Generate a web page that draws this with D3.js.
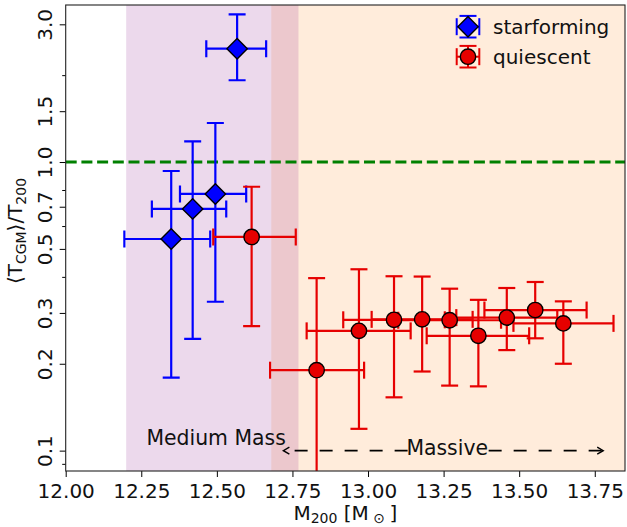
<!DOCTYPE html>
<html>
<head>
<meta charset="utf-8">
<script src="https://cdn.jsdelivr.net/npm/d3@7"></script>
<style>
  body { margin: 0; background: #fff; }
  svg { display: block; font-family: "DejaVu Sans", sans-serif; }
</style>
</head>
<body>
<svg id="chart" width="627" height="527"></svg>
<script>
// Star-forming haloes: halo mass (log M200) with bin edges, and temperature ratio with error range
const sfMass   = [12.349, 12.420, 12.495, 12.567];
const sfMassLo = [12.194, 12.285, 12.378, 12.465];
const sfMassHi = [12.478, 12.531, 12.597, 12.663];
const sfT      = [0.541, 0.688, 0.775, 2.47];
const sfTLo    = [0.179, 0.244, 0.328, 1.92];
const sfTHi    = [0.931, 1.18, 1.365, 3.25];

// Quiescent haloes
const qMass   = [12.615, 12.830, 12.970, 13.086, 13.179, 13.270, 13.365, 13.459, 13.553, 13.646];
const qMassLo = [12.488, 12.676, 12.797, 12.918, 13.012, 13.100, 13.194, 13.292, 13.385, 13.481];
const qMassHi = [12.761, 12.987, 13.141, 13.254, 13.346, 13.440, 13.533, 13.626, 13.723, 13.812];
const qT      = [0.550, 0.190, 0.260, 0.284, 0.285, 0.283, 0.250, 0.289, 0.307, 0.276];
const qTLo    = [0.270, 0.060, 0.119, 0.153, 0.188, 0.168, 0.167, 0.223, 0.245, 0.200];
const qTHi    = [0.821, 0.396, 0.425, 0.402, 0.401, 0.364, 0.333, 0.366, 0.384, 0.329];

// Axis ticks
const xTicks      = [12.00, 12.25, 12.50, 12.75, 13.00, 13.25, 13.50, 13.75];
const yTicks      = [0.1, 0.2, 0.3, 0.5, 0.7, 1.0, 1.5, 3.0];
const yMinorTicks = [0.09, 0.4, 0.6, 0.8, 2.0];

// Mass regimes and reference level
const mediumMassRange = [12.2, 12.77];
const massiveRange    = [12.68, 13.85];
const referenceRatio  = 1.0;

const svg = d3.select("#chart");
const L = 65.7, R = 625, T = 5, B = 471;
const x = d3.scaleLinear().domain([12.0, 13.85]).range([L, R]);
const y = d3.scaleLog().domain([0.085, 3.5]).range([B, T]);

svg.append("rect").attr("width", 627).attr("height", 527).attr("fill", "#fff");

svg.append("defs").append("clipPath").attr("id", "plotclip")
  .append("rect").attr("x", L).attr("y", T).attr("width", R - L).attr("height", B - T);

const plot = svg.append("g").attr("clip-path", "url(#plotclip)");

// shaded mass regimes
plot.append("rect")
  .attr("x", x(massiveRange[0])).attr("width", x(massiveRange[1]) - x(massiveRange[0]))
  .attr("y", T).attr("height", B - T)
  .attr("fill", "#ff7f0e").attr("fill-opacity", 0.15);
plot.append("rect")
  .attr("x", x(mediumMassRange[0])).attr("width", x(mediumMassRange[1]) - x(mediumMassRange[0]))
  .attr("y", T).attr("height", B - T)
  .attr("fill", "#800080").attr("fill-opacity", 0.15);

// T_CGM = T_200 reference line
plot.append("line")
  .attr("x1", L).attr("x2", R)
  .attr("y1", y(referenceRatio)).attr("y2", y(referenceRatio))
  .attr("stroke", "#008000").attr("stroke-width", 3)
  .attr("stroke-dasharray", "11,4.7");

const CAP = 8.5;
function errorBars(g, mass, mLo, mHi, t, tLo, tHi, color) {
  mass.forEach((m, i) => {
    const eg = g.append("g").attr("stroke", color).attr("stroke-width", 2.2).attr("fill", "none");
    const cx = x(m), cy = y(t[i]);
    eg.append("line").attr("x1", x(mLo[i])).attr("x2", x(mHi[i])).attr("y1", cy).attr("y2", cy);
    eg.append("line").attr("x1", cx).attr("x2", cx).attr("y1", y(tLo[i])).attr("y2", y(tHi[i]));
    [mLo[i], mHi[i]].forEach(v => eg.append("line")
      .attr("x1", x(v)).attr("x2", x(v)).attr("y1", cy - CAP).attr("y2", cy + CAP));
    [tLo[i], tHi[i]].forEach(v => eg.append("line")
      .attr("x1", cx - CAP).attr("x2", cx + CAP).attr("y1", y(v)).attr("y2", y(v)));
  });
}
const diamond = s => `M0,${-s}L${s},0L0,${s}L${-s},0Z`;

// star-forming
const sfG = plot.append("g");
errorBars(sfG, sfMass, sfMassLo, sfMassHi, sfT, sfTLo, sfTHi, "#0000ff");
sfG.selectAll("path.m").data(sfMass).join("path").attr("class", "m")
  .attr("transform", (d, i) => `translate(${x(d)},${y(sfT[i])})`)
  .attr("d", diamond(10.2))
  .attr("fill", "#0000ff").attr("stroke", "#000").attr("stroke-width", 1.4);

// quiescent
const qG = plot.append("g");
errorBars(qG, qMass, qMassLo, qMassHi, qT, qTLo, qTHi, "#e60000");
qG.selectAll("circle").data(qMass).join("circle")
  .attr("cx", d => x(d)).attr("cy", (d, i) => y(qT[i])).attr("r", 7.7)
  .attr("fill", "#e60000").attr("stroke", "#000").attr("stroke-width", 1.4);

// regime annotations
const annG = svg.append("g");
annG.append("text").attr("x", x(12.267)).attr("y", y(0.1046))
  .style("font-size", "20.4px").attr("fill", "#111").text("Medium Mass");
annG.append("text").attr("x", x(13.262)).attr("y", y(0.0963)).attr("text-anchor", "middle")
  .style("font-size", "20.4px").attr("fill", "#111").text("Massive");
function dashedArrow(xFrom, xTo, yv) {
  const x0 = x(xFrom), x1 = x(xTo), yy = y(yv);
  annG.append("line").attr("x1", x0).attr("x2", x1).attr("y1", yy).attr("y2", yy)
    .attr("stroke", "#000").attr("stroke-width", 1.6).attr("stroke-dasharray", "13,12");
  const dir = x1 > x0 ? 1 : -1;
  annG.append("path")
    .attr("d", `M${x1 - dir * 6},${yy - 3.5}L${x1},${yy}L${x1 - dir * 6},${yy + 3.5}`)
    .attr("fill", "none").attr("stroke", "#000").attr("stroke-width", 1.4);
}
dashedArrow(13.131, 12.72, 0.1);
dashedArrow(13.399, 13.778, 0.1);

// axes
const xAxis = svg.append("g").attr("transform", `translate(0,${B})`)
  .call(d3.axisBottom(x).tickValues(xTicks).tickFormat(d3.format(".2f"))
    .tickSize(6).tickPadding(7).tickSizeOuter(0));
xAxis.select(".domain").remove();
xAxis.selectAll("text").style("font-size", "20px").style("font-family", "DejaVu Sans").attr("fill", "#111");

const yAxis = svg.append("g").attr("transform", `translate(${L},0)`)
  .call(d3.axisLeft(y).tickValues(yTicks).tickFormat(d3.format(".1f")).tickSize(6).tickSizeOuter(0));
yAxis.select(".domain").remove();
yAxis.selectAll("text")
  .attr("transform", "rotate(-90)").attr("x", 0).attr("y", -14).attr("dy", 0)
  .attr("text-anchor", "middle")
  .style("font-size", "20px").style("font-family", "DejaVu Sans").attr("fill", "#111");

const yMinor = svg.append("g").attr("transform", `translate(${L},0)`)
  .call(d3.axisLeft(y).tickValues(yMinorTicks).tickFormat("").tickSize(3.5).tickSizeOuter(0));
yMinor.select(".domain").remove();

svg.append("rect").attr("x", L).attr("y", T).attr("width", R - L).attr("height", B - T)
  .attr("fill", "none").attr("stroke", "#222").attr("stroke-width", 1.1);

// axis titles
const xl = svg.append("text").attr("x", (L + R) / 2).attr("y", 519.5)
  .attr("text-anchor", "middle").style("font-size", "20px").attr("fill", "#111");
xl.append("tspan").text("M");
xl.append("tspan").attr("dy", 3.5).style("font-size", "14px").text("200");
xl.append("tspan").attr("dy", -3.5).text(" [M");
xl.append("tspan").attr("dy", 3.5).style("font-size", "14px").text(" ⊙ ");
xl.append("tspan").attr("dy", -3.5).text("]");

const yl = svg.append("text").attr("transform", `translate(22,231) rotate(-90)`)
  .attr("text-anchor", "middle").style("font-size", "20px").attr("fill", "#111");
yl.append("tspan").text("⟨T");
yl.append("tspan").attr("dy", 4).style("font-size", "14px").text("CGM");
yl.append("tspan").attr("dy", -4).text("⟩/T");
yl.append("tspan").attr("dy", 4).style("font-size", "14px").text("200");

// legend
const legend = svg.append("g");
const legendItems = [
  { label: "starforming", color: "#0000ff", shape: "diamond", cy: 26.7 },
  { label: "quiescent",   color: "#e60000", shape: "circle",  cy: 56.7 }
];
legendItems.forEach(it => {
  const cx = 468, hw = 11.3, hh = 10.8;
  const g = legend.append("g");
  const eg = g.append("g").attr("stroke", it.color).attr("stroke-width", 2).attr("fill", "none");
  eg.append("line").attr("x1", cx - hw).attr("x2", cx + hw).attr("y1", it.cy).attr("y2", it.cy);
  eg.append("line").attr("x1", cx).attr("x2", cx).attr("y1", it.cy - hh).attr("y2", it.cy + hh);
  [-hw, hw].forEach(d => eg.append("line").attr("x1", cx + d).attr("x2", cx + d)
    .attr("y1", it.cy - CAP).attr("y2", it.cy + CAP));
  [-hh, hh].forEach(d => eg.append("line").attr("x1", cx - CAP).attr("x2", cx + CAP)
    .attr("y1", it.cy + d).attr("y2", it.cy + d));
  if (it.shape === "diamond") {
    g.append("path").attr("transform", `translate(${cx},${it.cy})`).attr("d", diamond(10.2))
      .attr("fill", it.color).attr("stroke", "#000").attr("stroke-width", 1.4);
  } else {
    g.append("circle").attr("cx", cx).attr("cy", it.cy).attr("r", 7.7)
      .attr("fill", it.color).attr("stroke", "#000").attr("stroke-width", 1.4);
  }
  g.append("text").attr("x", 493).attr("y", it.cy + 7)
    .style("font-size", "20px").attr("fill", "#111").text(it.label);
});
</script>
</body>
</html>
